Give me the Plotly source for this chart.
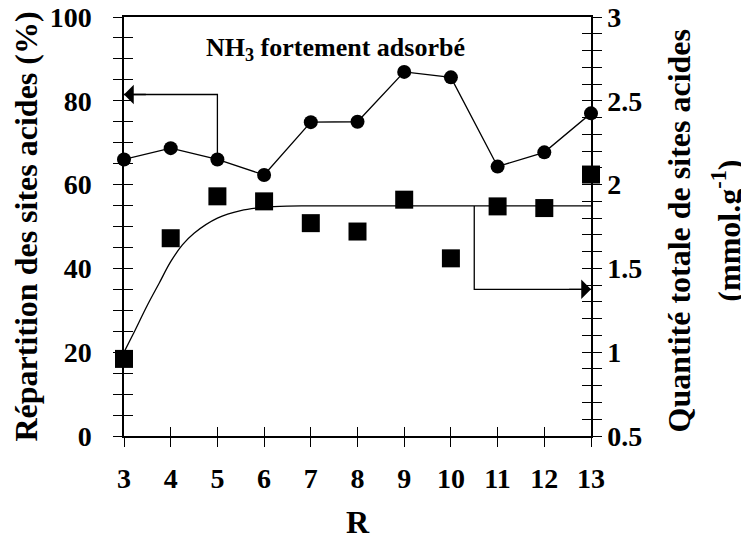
import plotly.graph_objects as go

# --- donnees ---
r_values = [3, 4, 5, 6, 7, 8, 9, 10, 11, 12, 13]
strong_pct = [66.0, 68.7, 66.0, 62.3, 74.9, 75.0, 86.9, 85.6, 64.3, 67.7, 77.0]
total_sites = [0.96, 1.68, 1.93, 1.90, 1.77, 1.72, 1.91, 1.56, 1.87, 1.86, 2.06]

fit_r = [3, 3.2, 3.5, 3.75, 4, 4.25, 4.5, 5, 5.5, 6, 6.5, 7, 13]
fit_sites = [1.0, 1.11, 1.28, 1.41, 1.54, 1.64, 1.71, 1.80, 1.845, 1.865, 1.872, 1.873, 1.873]

# fleches (chemin vers l'axe correspondant)
pct_arrow_r = [5, 5, 3]
pct_arrow_y = [66.0, 81.5, 81.5]
sites_arrow_r = [10.5, 10.5, 13]
sites_arrow_y = [1.873, 1.375, 1.375]

# graduations
x_ticks = [3, 4, 5, 6, 7, 8, 9, 10, 11, 12, 13]
left_ticks = [0, 5, 10, 15, 20, 25, 30, 35, 40, 45, 50, 55, 60, 65, 70, 75, 80, 85, 90, 95, 100]
left_labels = ["0", "", "", "", "20", "", "", "", "40", "", "", "", "60", "", "", "", "80", "", "", "", "100"]
right_ticks = [0.5, 0.6, 0.7, 0.8, 0.9, 1.0, 1.1, 1.2, 1.3, 1.4, 1.5, 1.6, 1.7, 1.8, 1.9,
               2.0, 2.1, 2.2, 2.3, 2.4, 2.5, 2.6, 2.7, 2.8, 2.9, 3.0]
right_labels = ["0.5", "", "", "", "", "1", "", "", "", "", "1.5", "", "", "", "",
                "2", "", "", "", "", "2.5", "", "", "", "", "3"]

FONT = "Liberation Serif, Times New Roman, serif"
tick_font = dict(family=FONT, size=28, color="black", weight="bold")
title_font = dict(family=FONT, size=32, color="black", weight="bold")

fig = go.Figure()

fig.add_trace(go.Scatter(
    x=fit_r, y=fit_sites, yaxis="y2", mode="lines", line_shape="spline",
    line=dict(color="black", width=1.3), showlegend=False, hoverinfo="skip",
))
fig.add_trace(go.Scatter(
    x=r_values, y=strong_pct, mode="lines+markers",
    line=dict(color="black", width=1.3),
    marker=dict(symbol="circle", size=14, color="black"),
    cliponaxis=False, showlegend=False,
))
fig.add_trace(go.Scatter(
    x=r_values, y=total_sites, yaxis="y2", mode="markers",
    marker=dict(symbol="square", size=18, color="black"),
    cliponaxis=False, showlegend=False,
))
fig.add_trace(go.Scatter(
    x=pct_arrow_r, y=pct_arrow_y, mode="lines",
    line=dict(color="black", width=1.3), showlegend=False, hoverinfo="skip",
))
fig.add_trace(go.Scatter(
    x=sites_arrow_r, y=sites_arrow_y, yaxis="y2", mode="lines",
    line=dict(color="black", width=1.3), showlegend=False, hoverinfo="skip",
))
# traces vides pour afficher les axes de graduations interieures
fig.add_trace(go.Scatter(x=[None], y=[None], xaxis="x2", yaxis="y3", showlegend=False))
fig.add_trace(go.Scatter(x=[None], y=[None], yaxis="y4", showlegend=False))

# pointes de fleches
fig.add_annotation(x=pct_arrow_r[-1], y=pct_arrow_y[-1], ax=pct_arrow_r[-1] + 0.5, ay=pct_arrow_y[-1],
                   xref="x", yref="y", axref="x", ayref="y", text="", showarrow=True,
                   arrowhead=1, arrowsize=2.5, arrowwidth=1.3, arrowcolor="black", standoff=0)
fig.add_annotation(x=sites_arrow_r[-1], y=sites_arrow_y[-1], ax=sites_arrow_r[-1] - 0.5, ay=sites_arrow_y[-1],
                   xref="x", yref="y2", axref="x", ayref="y2", text="", showarrow=True,
                   arrowhead=1, arrowsize=2.5, arrowwidth=1.3, arrowcolor="black", standoff=0)

fig.add_annotation(x=0.452, y=0.924, xref="paper", yref="paper", xanchor="center", yanchor="middle",
                   text="NH<sub>3</sub> fortement adsorbé", showarrow=False,
                   font=dict(family=FONT, size=26, color="black", weight="bold"))

# titre de l'axe droit sur deux lignes
fig.add_annotation(x=1.188, y=0.49, xref="paper", yref="paper", textangle=-90,
                   xanchor="center", yanchor="middle",
                   text="Quantité totale de sites acides", showarrow=False, font=title_font)
fig.add_annotation(x=1.289, y=0.49, xref="paper", yref="paper", textangle=-90,
                   xanchor="center", yanchor="middle",
                   text="(mmol.g<sup>-1</sup>)", showarrow=False, font=title_font)

axis_common = dict(showgrid=False, zeroline=False, showline=True, linecolor="black",
                   linewidth=1.5, tickcolor="black", tickwidth=1.2, ticklen=9,
                   automargin=False, ticklabeloverflow="allow")

# la page ajoute une marge de 8 px : figure un peu plus petite que la fenetre
fig.update_layout(
    width=741, height=532,
    margin=dict(l=116, r=158, t=9, b=104),
    plot_bgcolor="white", paper_bgcolor="white",
    xaxis=dict(range=[3, 13], tickvals=x_ticks, ticks="outside", mirror=True,
               tickfont=tick_font, ticklabelstandoff=8,
               title=dict(text="R", font=title_font, standoff=20), **axis_common),
    xaxis2=dict(range=[3, 13], overlaying="x", tickvals=x_ticks, ticks="inside",
                showticklabels=False, anchor="y", **axis_common),
    yaxis=dict(range=[0, 100], tickvals=left_ticks, ticktext=left_labels, ticks="outside",
               tickfont=tick_font, ticklabelstandoff=16,
               title=dict(text="Répartition des sites acides (%)", font=title_font, standoff=20),
               **axis_common),
    yaxis2=dict(range=[0.5, 3], overlaying="y", side="right", anchor="x",
                tickvals=right_ticks, ticktext=right_labels, ticks="outside",
                tickfont=tick_font, ticklabelstandoff=0, **axis_common),
    yaxis3=dict(range=[0, 100], overlaying="y", side="left", anchor="x2", tickvals=left_ticks,
                ticks="inside", showticklabels=False, **axis_common),
    yaxis4=dict(range=[0.5, 3], overlaying="y", side="right", anchor="x", tickvals=right_ticks,
                ticks="inside", showticklabels=False, **axis_common),
)

fig.write_html("out.html")
